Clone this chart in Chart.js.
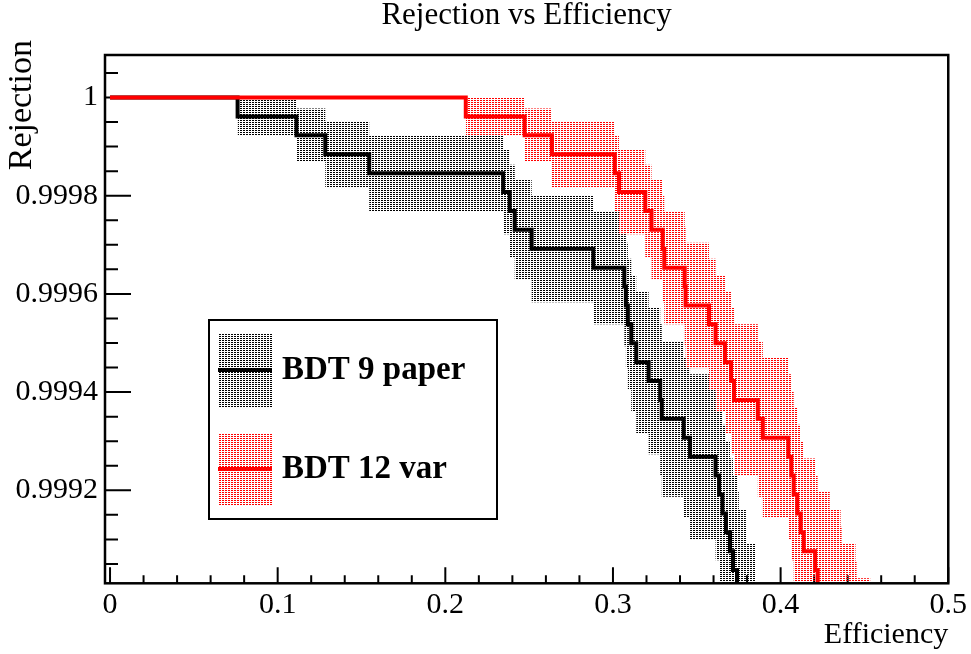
<!DOCTYPE html>
<html><head><meta charset="utf-8">
<script src="https://cdn.jsdelivr.net/npm/chart.js@4.4.1/dist/chart.umd.min.js"></script>
<style>html,body{margin:0;padding:0;background:#fff;} #wrap{width:971px;height:654px;}</style>
</head><body><div id="wrap"><canvas id="c" width="971" height="654"></canvas></div>
<script>
const chartTitle = 'Rejection vs Efficiency';
const xAxisTitle = 'Efficiency';
const yAxisTitle = 'Rejection';
const seriesNames = ['BDT 9 paper', 'BDT 12 var'];

const xMajorTicks = [0, 0.1, 0.2, 0.3, 0.4, 0.5];
const xTickLabels = ['0', '0.1', '0.2', '0.3', '0.4', '0.5'];
const xMinorTicks = [0.02,0.04,0.06,0.08,0.12,0.14,0.16,0.18,0.22,0.24,0.26,0.28,0.32,0.34,0.36,0.38,0.42,0.44,0.46,0.48];
const yMajorTicks = [0.9992, 0.9994, 0.9996, 0.9998, 1];
const yTickLabels = ['0.9992', '0.9994', '0.9996', '0.9998', '1'];
const yMinorTicks = [0.99905,0.9991,0.99915,0.99925,0.9993,0.99935,0.99945,0.9995,0.99955,0.99965,0.9997,0.99975,0.99985,0.9999,0.99995,1.00005];

// BDT 9 paper (black)
const blackEff = [0, 0.0761, 0.1112, 0.1284, 0.1546, 0.2345, 0.2384, 0.2414, 0.2515, 0.2883,
  0.3068, 0.3077, 0.3089, 0.3109, 0.3139, 0.3213, 0.3282, 0.3291, 0.3422, 0.3460,
  0.3612, 0.3633, 0.3653, 0.3674, 0.3698, 0.3716, 0.3740, 0.3751, 0.3793, 0.3799, 0.3853];
const blackRej = [1, 0.9999615, 0.999923, 0.9998845, 0.999846, 0.9998075, 0.999769, 0.9997305, 0.999692, 0.9996535,
  0.999615, 0.9995765, 0.999538, 0.9994995, 0.999461, 0.9994225, 0.999384, 0.9993455, 0.999307, 0.9992685,
  0.99923, 0.9991915, 0.999153, 0.9991145, 0.999076, 0.9990375, 0.999, 0.9989605, 0.998922, 0.9988835, 0.998845];
const blackErr = [0, 0.0000385, 0.0000544, 0.0000667, 0.000077, 0.0000861, 0.0000943, 0.0001019, 0.0001089, 0.0001155,
  0.0001217, 0.0001277, 0.0001334, 0.0001388, 0.0001441, 0.0001491, 0.000154, 0.0001587, 0.0001634, 0.0001678,
  0.0001722, 0.0001764, 0.0001806, 0.0001846, 0.0001886, 0.0001925, 0.0001963, 0.0002, 0.0002037, 0.0002073, 0.0002109];

// BDT 12 var (red)
const redEff = [0, 0.2122, 0.2473, 0.2636, 0.3011, 0.3036, 0.3193, 0.3230, 0.3297, 0.3306,
  0.3428, 0.3433, 0.3573, 0.3612, 0.3668, 0.3704, 0.3722, 0.3864, 0.3894, 0.4046,
  0.4064, 0.4078, 0.4099, 0.4120, 0.4138, 0.4206, 0.4221, 0.4293, 0.4358, 0.4364,
  0.4447, 0.4453, 0.4536];
const redRej = [1, 0.9999615, 0.999923, 0.9998845, 0.999846, 0.9998075, 0.999769, 0.9997305, 0.999692, 0.9996535,
  0.999615, 0.9995765, 0.999538, 0.9994995, 0.999461, 0.9994225, 0.999384, 0.9993455, 0.999307, 0.9992685,
  0.99923, 0.9991915, 0.999153, 0.9991145, 0.999076, 0.9990375, 0.999, 0.9989605, 0.998922, 0.9988835,
  0.998845, 0.9988065, 0.998768];
const redErr = [0, 0.0000385, 0.0000544, 0.0000667, 0.000077, 0.0000861, 0.0000943, 0.0001019, 0.0001089, 0.0001155,
  0.0001217, 0.0001277, 0.0001334, 0.0001388, 0.0001441, 0.0001491, 0.000154, 0.0001587, 0.0001634, 0.0001678,
  0.0001722, 0.0001764, 0.0001806, 0.0001846, 0.0001886, 0.0001925, 0.0001963, 0.0002, 0.0002037, 0.0002073,
  0.0002109, 0.0002144, 0.0002178];

const FONT = 'Liberation Serif';

function makePattern(color) {
  const c = document.createElement('canvas');
  c.width = 3; c.height = 2;
  const g = c.getContext('2d');
  g.fillStyle = color;
  g.fillRect(0, 0, 2, 1);
  return g.createPattern(c, 'repeat');
}
const grayPattern = makePattern('#000000');
const redPattern = makePattern('#ff0000');

function linePts(eff, rej) { return eff.map((x, i) => ({x: x, y: rej[i]})); }
function bandPts(eff, rej, err, sign) {
  const out = [];
  for (let i = 1; i < eff.length; i++) out.push({x: eff[i], y: rej[i] + sign * err[i]});
  return out;
}

const common = {pointRadius: 0, pointHoverRadius: 0, stepped: true, tension: 0, clip: 0};

const datasets = [
  Object.assign({label: seriesNames[1], data: linePts(redEff, redRej), borderColor: '#ff0000', borderWidth: 4, fill: false, order: 0}, common),
  Object.assign({label: seriesNames[0], data: linePts(blackEff, blackRej), borderColor: '#000000', borderWidth: 4, fill: false, order: 1}, common),
  Object.assign({label: 'red band hi', data: bandPts(redEff, redRej, redErr, 1), borderColor: 'rgba(0,0,0,0)', borderWidth: 0, backgroundColor: redPattern, fill: '+1', order: 2}, common),
  Object.assign({label: 'red band lo', data: bandPts(redEff, redRej, redErr, -1), borderColor: 'rgba(0,0,0,0)', borderWidth: 0, fill: false, order: 2}, common),
  Object.assign({label: 'black band hi', data: bandPts(blackEff, blackRej, blackErr, 1), borderColor: 'rgba(0,0,0,0)', borderWidth: 0, backgroundColor: grayPattern, fill: '+1', order: 3}, common),
  Object.assign({label: 'black band lo', data: bandPts(blackEff, blackRej, blackErr, -1), borderColor: 'rgba(0,0,0,0)', borderWidth: 0, fill: false, order: 3}, common)
];

const rootStyle = {
  id: 'rootStyle',
  beforeDatasetsDraw(chart) {
    const ctx = chart.ctx, a = chart.chartArea, xs = chart.scales.x, ys = chart.scales.y;
    ctx.save();
    ctx.strokeStyle = '#000';
    ctx.lineWidth = 2;
    ctx.beginPath();
    xMajorTicks.forEach(v => { const p = xs.getPixelForValue(v); ctx.moveTo(p, a.bottom); ctx.lineTo(p, a.bottom - 16); });
    xMinorTicks.forEach(v => { const p = xs.getPixelForValue(v); ctx.moveTo(p, a.bottom); ctx.lineTo(p, a.bottom - 8); });
    yMajorTicks.forEach(v => { const p = ys.getPixelForValue(v); ctx.moveTo(a.left, p); ctx.lineTo(a.left + 26, p); });
    yMinorTicks.forEach(v => { const p = ys.getPixelForValue(v); ctx.moveTo(a.left, p); ctx.lineTo(a.left + 13, p); });
    ctx.stroke();
    ctx.restore();
  },
  afterDatasetsDraw(chart) {
    const ctx = chart.ctx, a = chart.chartArea;
    ctx.save();
    ctx.strokeStyle = '#000';
    // frame
    ctx.lineWidth = 2.5;
    ctx.strokeRect(a.left, a.top, a.right - a.left, a.bottom - a.top);
    // axis titles
    ctx.fillStyle = '#000';
    ctx.font = '30px "' + FONT + '"';
    ctx.textAlign = 'right';
    ctx.textBaseline = 'alphabetic';
    ctx.fillText(xAxisTitle, a.right, 643);
    ctx.save();
    ctx.translate(31, 40);
    ctx.rotate(-Math.PI / 2);
    ctx.font = '34px "' + FONT + '"';
    ctx.textAlign = 'right';
    ctx.fillText(yAxisTitle, 0, 0);
    ctx.restore();
    // legend
    const L = {x: 209, y: 320, w: 288, h: 199};
    ctx.fillStyle = '#fff';
    ctx.fillRect(L.x, L.y, L.w, L.h);
    ctx.lineWidth = 2;
    ctx.strokeRect(L.x, L.y, L.w, L.h);
    const entries = [
      {pat: grayPattern, color: '#000000', label: chart.data.datasets[1].label, top: 333, bot: 407},
      {pat: redPattern, color: '#ff0000', label: chart.data.datasets[0].label, top: 433, bot: 505}
    ];
    entries.forEach(e => {
      ctx.fillStyle = e.pat;
      ctx.fillRect(218, e.top, 54, e.bot - e.top);
      const mid = (e.top + e.bot) / 2;
      ctx.strokeStyle = e.color;
      ctx.lineWidth = 4;
      ctx.beginPath(); ctx.moveTo(218, mid); ctx.lineTo(272, mid); ctx.stroke();
      ctx.fillStyle = '#000';
      ctx.font = 'bold 33px "' + FONT + '"';
      ctx.textAlign = 'left';
      ctx.textBaseline = 'middle';
      ctx.fillText(e.label, 282, mid);
    });
    ctx.restore();
  }
};

new Chart(document.getElementById('c'), {
  type: 'line',
  data: {datasets: datasets},
  options: {
    responsive: false,
    animation: false,
    devicePixelRatio: 1,
    events: [],
    layout: {padding: {left: 0, right: 20, top: 0, bottom: 0}},
    plugins: {
      legend: {display: false},
      tooltip: {enabled: false},
      title: {display: true, text: chartTitle, fullSize: false, color: '#000',
        font: {family: FONT, size: 31, weight: 'normal', lineHeight: 1}, padding: {top: 0, bottom: 24}}
    },
    scales: {
      x: {
        type: 'linear', min: -0.003, max: 0.5,
        grid: {display: false, drawTicks: false}, border: {display: false},
        title: {display: false, text: xAxisTitle},
        ticks: {color: '#000', font: {family: FONT, size: 30}, padding: 4, maxRotation: 0, autoSkip: false,
          callback: (v) => { const i = xMajorTicks.findIndex(t => Math.abs(t - v) < 1e-9); return i >= 0 ? xTickLabels[i] : ''; }},
        afterBuildTicks: (s) => { s.ticks = xMajorTicks.map(v => ({value: v})); },
        afterFit: (s) => { s.height = 70.7; }
      },
      y: {
        type: 'linear', min: 0.9990106, max: 1.0000866,
        grid: {display: false, drawTicks: false}, border: {display: false},
        title: {display: false, text: yAxisTitle},
        ticks: {color: '#000', font: {family: FONT, size: 30}, padding: 7, autoSkip: false,
          callback: (v) => { const i = yMajorTicks.findIndex(t => Math.abs(t - v) < 1e-9); return i >= 0 ? yTickLabels[i] : ''; }},
        afterBuildTicks: (s) => { s.ticks = yMajorTicks.map(v => ({value: v})); },
        afterFit: (s) => { s.width = 105; }
      }
    }
  },
  plugins: [rootStyle]
});
</script></body></html>
